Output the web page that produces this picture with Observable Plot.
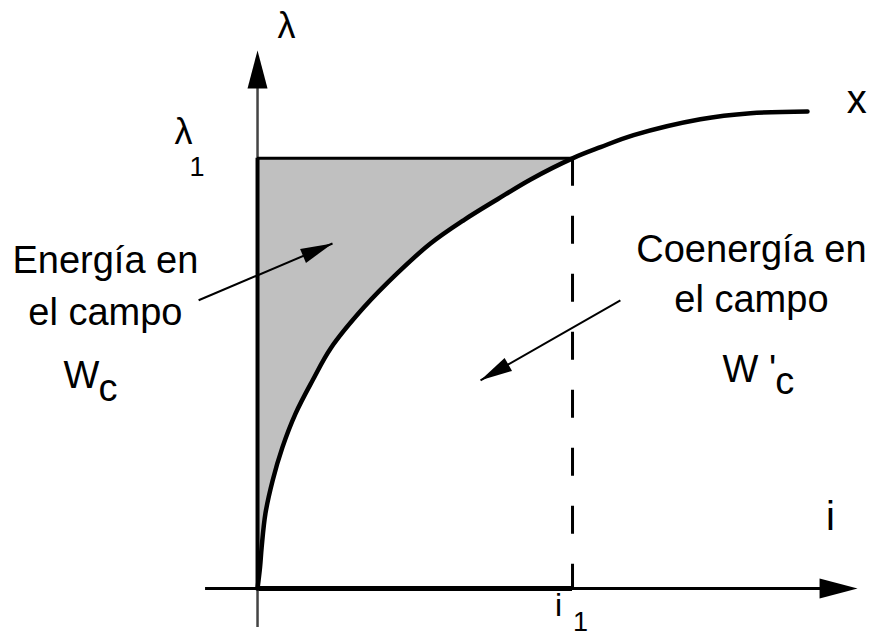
<!DOCTYPE html>
<html>
<head>
<meta charset="utf-8">
<script src="https://cdn.jsdelivr.net/npm/d3@7"></script>
<script src="https://cdn.jsdelivr.net/npm/@observablehq/plot@0.6"></script>
<style>
  body { margin: 0; background: #fff; }
  svg { display: block; }
</style>
</head>
<body>
<div id="chart"></div>
<script>
// --- data: magnetisation curve λ(i), in units where i1 = 1 and λ1 = 1 ---
const curveI      = [0, 0.008, 0.013, 0.025, 0.048, 0.079, 0.121, 0.175, 0.232, 0.337, 0.444, 0.549, 0.654, 0.762, 0.867, 1.000, 1.089, 1.194, 1.406, 1.565, 1.746];
const curveLambda = [0, 0.050, 0.095, 0.174, 0.251, 0.328, 0.407, 0.484, 0.558, 0.653, 0.733, 0.802, 0.856, 0.905, 0.951, 1.000, 1.026, 1.054, 1.091, 1.105, 1.109];
const i1 = 1;
const lambda1 = 1;

// axis extents (data units)
const xAxisStart = -0.165, xAxisTip = 1.905;
const yAxisStart = -0.091, yAxisTip = 1.251;

// annotation arrows
const arrowTailI      = [-0.187, 1.152];
const arrowTailLambda = [0.670, 0.670];
const arrowTipI       = [0.238, 0.708];
const arrowTipLambda  = [0.802, 0.484];

// labels
const bigText    = ["Energía en", "el campo", "Coenergía en", "el campo"];
const bigI       = [-0.483, -0.483, 1.568, 1.568];
const bigLambda  = [0.733, 0.612, 0.758, 0.642];

const symText    = ["W", "c", "W '", "c"];
const symI       = [-0.616, -0.505, 1.476, 1.644];
const symLambda  = [0.465, 0.437, 0.479, 0.453];

const axisText   = ["λ", "λ", "x", "i", "i"];
const axisI      = [0.092, -0.235, 1.902, 1.819, 0.956];
const axisLambda = [1.279, 1.033, 1.105, 0.137, -0.063];
const axisSize   = [36, 36, 40, 40, 32];

const subText    = ["1", "1"];
const subI       = [-0.192, 1.025];
const subLambda  = [0.958, -0.099];

// --- layout ---
const W = 870, H = 637;
const xDomain = [-0.816, 1.946];
const yDomain = [-0.114, 1.367];
const pxI = W / (xDomain[1] - xDomain[0]);
const pxL = H / (yDomain[1] - yDomain[0]);
const font = "Liberation Sans, Arial, Helvetica, sans-serif";

const curve = curveI.map((v, k) => ({i: v, lambda: curveLambda[k]}));
const shaded = curve.filter(d => d.lambda <= lambda1);

function head(len, half) {
  return {
    draw(ctx) {
      ctx.moveTo(0, 0);
      ctx.lineTo(half, len);
      ctx.lineTo(-half, len);
      ctx.closePath();
    }
  };
}
const axisHead = head(38, 10);
const noteHead = head(32, 7.5);

const arrows = arrowTailI.map((t, k) => {
  const dx = (arrowTipI[k] - t) * pxI;
  const dy = (arrowTipLambda[k] - arrowTailLambda[k]) * pxL;
  return {
    x1: t, y1: arrowTailLambda[k], x2: arrowTipI[k], y2: arrowTipLambda[k],
    angle: Math.atan2(dx, dy) * 180 / Math.PI
  };
});

const mk = (texts, is, ls) => texts.map((t, k) => ({t, i: is[k], lambda: ls[k]}));

const plot = Plot.plot({
  width: W,
  height: H,
  margin: 0,
  x: {domain: xDomain, axis: null},
  y: {domain: yDomain, axis: null},
  style: {background: "#fff", overflow: "visible"},
  marks: [
    // shaded energy region
    Plot.areaX(shaded, {y: "lambda", x1: 0, x2: "i", fill: "#c0c0c0", curve: "catmull-rom"}),
    // axes
    Plot.ruleY([0], {x1: xAxisStart, x2: xAxisTip - 0.1, stroke: "#000", strokeWidth: 3}),
    Plot.ruleY([0], {x1: 0, x2: i1, stroke: "#000", strokeWidth: 5}),
    Plot.ruleX([0], {y1: yAxisStart, y2: yAxisTip - 0.07, stroke: "#444", strokeWidth: 2.5}),
    Plot.ruleX([0], {y1: 0, y2: lambda1, stroke: "#000", strokeWidth: 4}),
    Plot.dot([{i: xAxisTip, lambda: 0}], {x: "i", y: "lambda", symbol: axisHead, r: 5, rotate: 90, fill: "#000", stroke: "none"}),
    Plot.dot([{i: 0, lambda: yAxisTip}], {x: "i", y: "lambda", symbol: axisHead, r: 5, rotate: 0, fill: "#000", stroke: "none"}),
    // λ1 level and i1 dashed line
    Plot.ruleY([lambda1], {x1: 0, x2: i1, stroke: "#000", strokeWidth: 3}),
    Plot.ruleX([i1], {y1: lambda1, y2: 0, stroke: "#000", strokeWidth: 3, strokeDasharray: "28,30"}),
    // curve
    Plot.line(curve, {x: "i", y: "lambda", stroke: "#000", strokeWidth: 4.5, curve: "catmull-rom"}),
    // annotation arrows
    Plot.link(arrows, {x1: "x1", y1: "y1", x2: "x2", y2: "y2", stroke: "#000", strokeWidth: 2}),
    Plot.dot(arrows, {x: "x2", y: "y2", symbol: noteHead, r: 5, rotate: "angle", fill: "#000", stroke: "none"}),
    // texts
    Plot.text(mk(bigText, bigI, bigLambda), {x: "i", y: "lambda", text: "t", fontSize: 38, fontFamily: font, fill: "#000", textAnchor: "middle", lineAnchor: "bottom"}),
    Plot.text(mk(symText, symI, symLambda), {x: "i", y: "lambda", text: "t", fontSize: 38, fontFamily: font, fill: "#000", textAnchor: "start", lineAnchor: "bottom"}),
    Plot.text(axisText.map((t, k) => ({t, i: axisI[k], lambda: axisLambda[k], s: axisSize[k]})), {x: "i", y: "lambda", text: "t", fontSize: d => d.s, fontFamily: font, fill: "#000", textAnchor: "middle", lineAnchor: "bottom"}),
    Plot.text(mk(subText, subI, subLambda), {x: "i", y: "lambda", text: "t", fontSize: 27, fontFamily: font, fill: "#000", textAnchor: "middle", lineAnchor: "bottom"})
  ]
});
document.getElementById("chart").appendChild(plot);
</script>
</body>
</html>
